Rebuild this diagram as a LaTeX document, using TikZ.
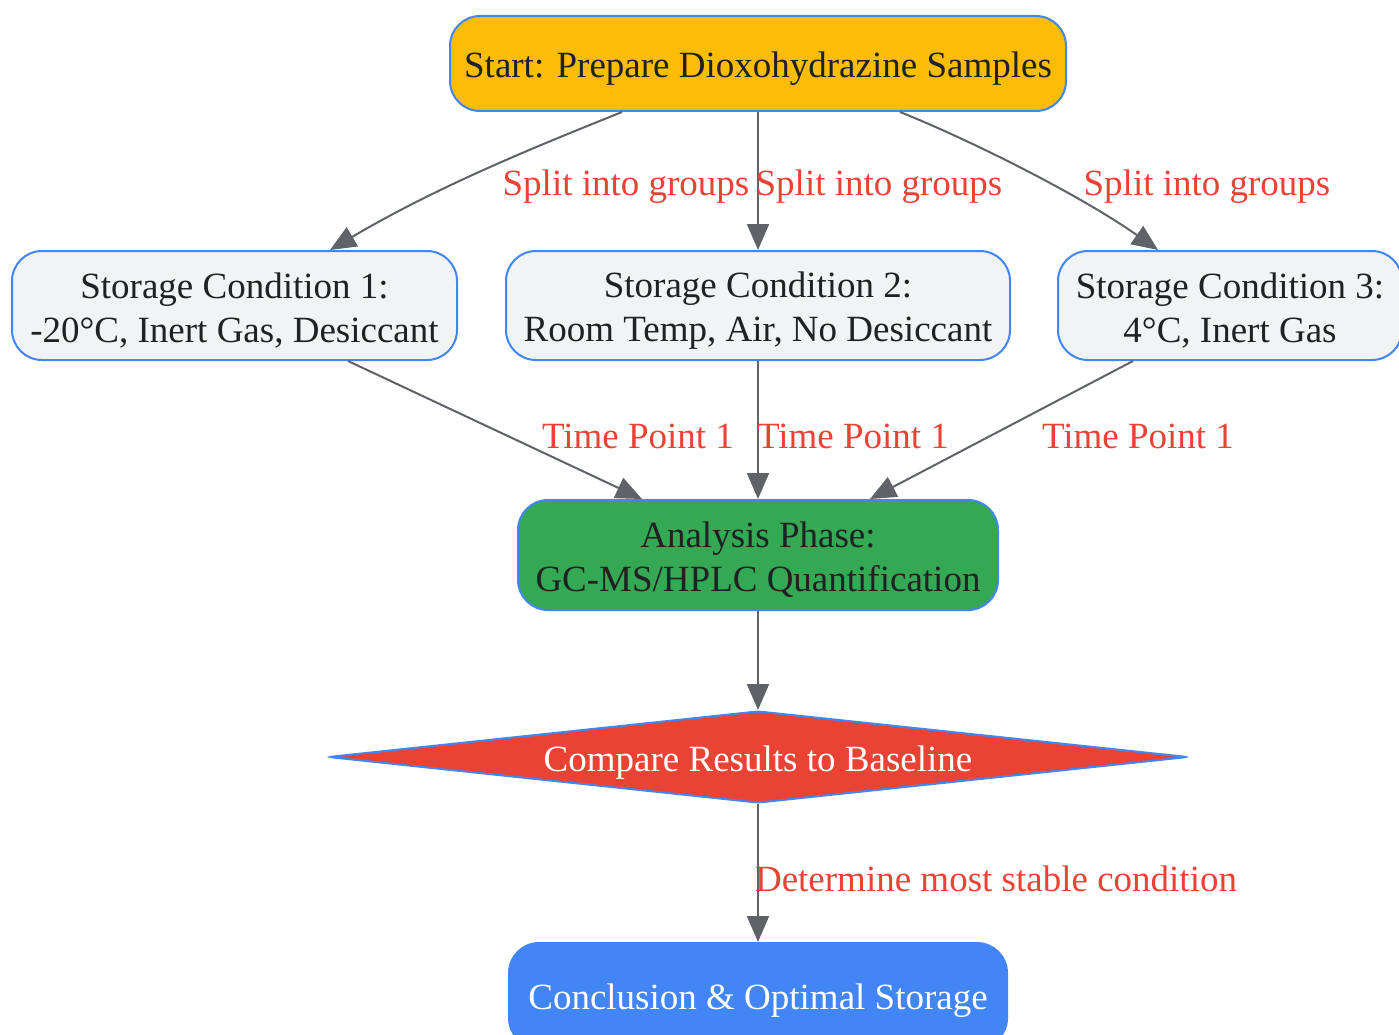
\documentclass[tikz,border=0pt]{standalone}
\usepackage{fontspec}
\setmainfont{Liberation Serif}
\usetikzlibrary{shapes.geometric,arrows.meta}
\definecolor{cblue}{HTML}{4285F4}
\definecolor{cyellow}{HTML}{FBBC05}
\definecolor{cgray}{HTML}{F1F3F4}
\definecolor{cgreen}{HTML}{34A853}
\definecolor{cred}{HTML}{EA4335}
\definecolor{ctext}{HTML}{202124}
\definecolor{cedge}{HTML}{5F6368}
\newcommand\mytstrut{\rule{0pt}{35pt}}
\begin{document}
\begin{tikzpicture}[x=1pt,y=-1pt,
  every node/.style={font=\fontsize{37}{44}\selectfont},
  box/.style={draw=cblue, line width=2pt, rounded corners=30pt, align=center, inner sep=0pt, text=ctext},
  edge/.style={draw=cedge, line width=2pt, -{Triangle[length=26pt,width=22pt]}},
  elabel/.style={text=cred, inner sep=0pt}
]
\useasboundingbox (0,0) rectangle (1399,1035);
\clip (0,0) rectangle (1399,1035);

\node[box, fill=cyellow, minimum width=616pt, minimum height=95pt] (start) at (758,63.5) {\mytstrut Start: Prepare Dioxohydrazine Samples};
\node[box, fill=cgray, minimum width=445pt, minimum height=109pt] (sc1) at (234.5,305.5) {\mytstrut Storage Condition 1:\\-20°C, Inert Gas, Desiccant};
\node[box, fill=cgray, minimum width=504pt, minimum height=109pt] (sc2) at (758,305.5) {\mytstrut Storage Condition 2:\\Room Temp, Air, No Desiccant};
\node[box, fill=cgray, minimum width=344pt, minimum height=109pt] (sc3) at (1230,305.5) {\mytstrut Storage Condition 3:\\4°C, Inert Gas};
\node[box, fill=cgreen, minimum width=480pt, minimum height=110pt] (ana) at (758,555) {\mytstrut Analysis Phase:\\GC-MS/HPLC Quantification};
\node[draw=cblue, line width=2pt, fill=cred, diamond, aspect=9.35, rounded corners=4pt, minimum width=860pt, minimum height=92pt, inner sep=0pt, text=white] (cmp) at (758,757) {\rule{0pt}{37pt}Compare Results to Baseline};
\node[box, fill=cblue, text=white, minimum width=498pt, minimum height=105pt] (conc) at (758,995.5) {\mytstrut Conclusion \& Optimal Storage};

% edges
\draw[edge] ([xshift=-136pt]start.south) .. controls (540,145) and (440,185) .. ([xshift=95.5pt]sc1.north);
\draw[edge] (start.south) -- (sc2.north);
\draw[edge] ([xshift=142pt]start.south) .. controls (970,140) and (1080,195) .. ([xshift=-72pt]sc3.north);
\draw[edge] ([xshift=113.5pt]sc1.south) -- ([xshift=-116pt]ana.north);
\draw[edge] (sc2.south) -- (ana.north);
\draw[edge] ([xshift=-97pt]sc3.south) -- ([xshift=112pt]ana.north);
\draw[edge] (ana.south) -- (cmp.north);
\draw[edge] (cmp.south) -- (conc.north);

% edge labels
\node[elabel] (l1) at (626,187) {Split into groups};
\node[elabel] (l2) at (879,187) {Split into groups};
\node[elabel] (l3) at (1207,187) {Split into groups};
\node[elabel] (t1) at (638,436) {Time Point 1};
\node[elabel] (t2) at (853,436) {Time Point 1};
\node[elabel] (t3) at (1138,436) {Time Point 1};
\node[elabel] (d1) at (996,879) {Determine most stable condition};
\end{tikzpicture}
\end{document}
